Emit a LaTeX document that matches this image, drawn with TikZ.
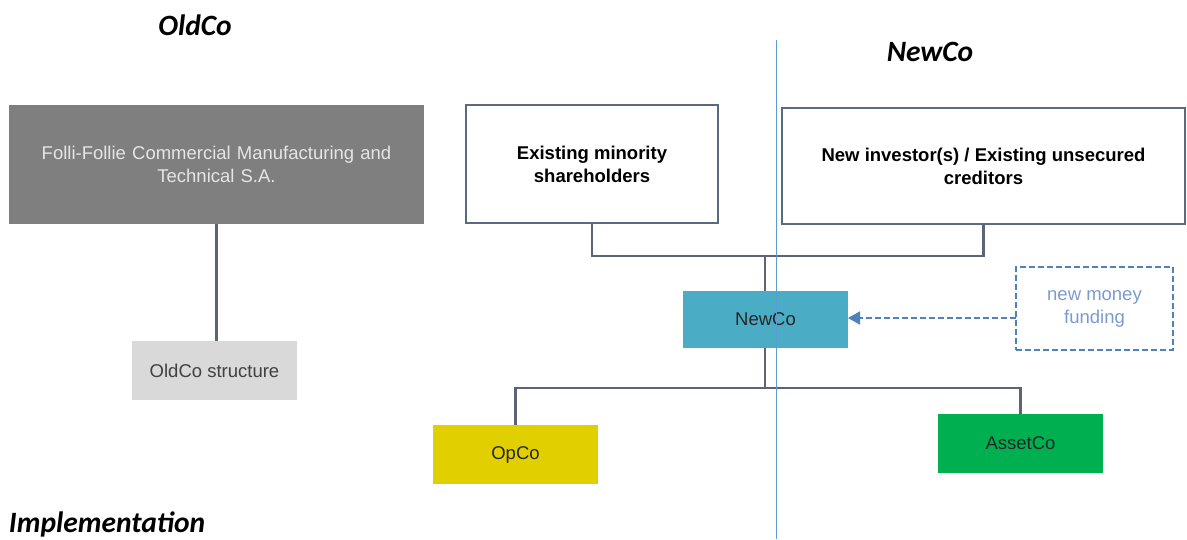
\documentclass[tikz,border=0pt]{standalone}
\usepackage{fontspec}
\setmainfont{Liberation Sans}
\newfontfamily\titlefont{Carlito}
\usetikzlibrary{arrows.meta}
\definecolor{conn}{HTML}{5B6577}
\definecolor{ffgray}{HTML}{7F7F7F}
\definecolor{oldgray}{HTML}{D9D9D9}
\definecolor{newcoc}{HTML}{4BACC6}
\definecolor{opcoc}{HTML}{E2CF00}
\definecolor{assetc}{HTML}{00B050}
\definecolor{fundc}{HTML}{4F81BD}
\definecolor{fundtxt}{HTML}{7B9BD0}
\definecolor{vline}{HTML}{5B9BD5}
\definecolor{boxedge}{HTML}{5A6A80}
\tikzset{
  every node/.style={inner sep=0pt, outer sep=0pt},
  boxbase/.style={rectangle, align=center, font=\fontsize{18.5}{23}\selectfont},
  boldbox/.style={boxbase, draw=boxedge, line width=1.2pt, fill=white, font=\bfseries\fontsize{18.5}{23}\selectfont},
  title/.style={font=\titlefont\bfseries\itshape\fontsize{29.5}{31}\selectfont},
  connector/.style={draw=conn, line width=2.4pt},
}
\begin{document}
\begin{tikzpicture}[x=1pt,y=-1pt]
\useasboundingbox (0,0) rectangle (1187,539);
% titles
\node[title] (t1) at (195,25) {OldCo};
\node[title] (t2) at (930,52) {NewCo};
\node[title, anchor=west] (t3) at (9,524) {Implementation};
% boxes
\node[boxbase, fill=ffgray, text=white!90!black, minimum width=415pt, minimum height=119pt, text width=410pt] (ff) at (216.5,164.5) {Folli-Follie Commercial Manufacturing and\\Technical S.A.};
\node[boxbase, fill=oldgray, text=black!75, minimum width=165pt, minimum height=59pt] (old) at (214.5,370.5) {OldCo structure};
\node[boldbox, minimum width=252pt, minimum height=118pt] (min) at (592,164) {Existing minority\\shareholders};
\node[boldbox, minimum width=403pt, minimum height=116pt] (inv) at (983.5,166) {New investor(s) / Existing unsecured\\creditors};
\node[boxbase, fill=newcoc, text=black!85, minimum width=165pt, minimum height=57pt] (newco) at (765.5,319.5) {NewCo};
\node[boxbase, draw=fundc, dash pattern=on 6pt off 3pt, line width=1.8pt, text=fundtxt, minimum width=157pt, minimum height=83pt] (fund) at (1094.5,308.5) {new money\\funding};
\node[boxbase, fill=opcoc, text=black!85, minimum width=165pt, minimum height=59pt] (opco) at (515.5,454.5) {OpCo};
\node[boxbase, fill=assetc, text=black!85, minimum width=165pt, minimum height=59pt] (asset) at (1020.5,443.5) {AssetCo};
% junctions
\coordinate (j1) at (765,256);
\coordinate (j2) at (765,388);
% connectors
\draw[connector] (ff.south) -- (ff.south |- old.north);
\draw[connector] (min.south) |- (j1) -| (inv.south);
\draw[connector] (j1) -- (j1 |- newco.north);
\draw[connector] (j2 |- newco.south) -- (j2);
\draw[connector] (opco.north) |- (j2) -| (asset.north);
\draw[draw=fundc, line width=1.8pt, dash pattern=on 6pt off 3pt, -{Triangle[length=12pt,width=13pt]}] (fund.west |- 0,318) -- (newco.east |- 0,318);
% vertical divider
\coordinate (vt) at (776,40);
\coordinate (vb) at (776,539);
\draw[vline, line width=1pt] (vt) -- (vb);
\end{tikzpicture}
\end{document}
